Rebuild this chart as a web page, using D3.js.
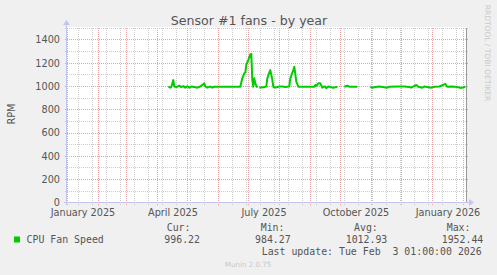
<!DOCTYPE html>
<html>
<head>
<meta charset="utf-8">
<script src="https://cdn.jsdelivr.net/npm/d3@7"></script>
<style>
  html, body { margin: 0; padding: 0; background: #F0F0F0; }
  svg { display: block; }
  text { font-family: "DejaVu Sans", sans-serif; }
  .mono { font-family: "DejaVu Sans Mono", monospace; }
</style>
</head>
<body>
<svg id="chart" width="497" height="275"></svg>
<script>
// ---- data ----
const title = "Sensor #1 fans - by year";
const yLabel = "RPM";
const seriesName = "CPU Fan Speed";
const yTicks = [0, 200, 400, 600, 800, 1000, 1200, 1400];
const xTickMonths = ["2025-01-01", "2025-04-01", "2025-07-01", "2025-10-01", "2026-01-01"];
const xTickLabels = ["January 2025", "April 2025", "July 2025", "October 2025", "January 2026"];
const fanDates = [
  "2025-04-12","2025-04-14","2025-04-15","2025-04-17","2025-04-18","2025-04-20","2025-04-23","2025-04-25",
  "2025-04-27","2025-04-29","2025-05-01","2025-05-03","2025-05-05","2025-05-08","2025-05-11","2025-05-14",
  "2025-05-18","2025-05-19","2025-05-21","2025-05-24","2025-05-26","2025-05-28","2025-06-23","2025-06-25",
  "2025-06-27","2025-06-28","2025-06-29","2025-07-01","2025-07-03","2025-07-04","2025-07-05","2025-07-06",
  "2025-07-07","2025-07-08","2025-07-10","2025-07-11","2025-07-12","2025-07-17","2025-07-19","2025-07-20",
  "2025-07-22","2025-07-23","2025-07-25","2025-07-26","2025-07-28","2025-08-01","2025-08-04","2025-08-07",
  "2025-08-11","2025-08-12","2025-08-15","2025-08-16","2025-08-18","2025-08-20","2025-09-05","2025-09-06",
  "2025-09-07","2025-09-09","2025-09-11","2025-09-13","2025-09-14","2025-09-16","2025-09-17","2025-09-19",
  "2025-09-21","2025-09-24","2025-09-28","2025-10-01","2025-10-05","2025-10-08","2025-10-10","2025-10-18",
  "2025-10-24","2025-10-31","2025-11-02","2025-11-05","2025-11-09","2025-11-17","2025-11-19","2025-11-29",
  "2025-12-04","2025-12-09","2025-12-11","2025-12-16","2025-12-18","2025-12-22","2025-12-24","2025-12-31",
  "2026-01-03","2026-01-08","2026-01-14","2026-01-16","2026-01-20","2026-01-26","2026-01-30","2026-02-03"
];
const fanRpm = [
  1000,990,995,1055,1000,995,1007,995,
  1003,990,1002,990,1000,995,990,1000,
  1027,1000,990,1000,990,998,998,1070,
  1113,1120,1185,1227,1276,1280,1055,998,
  1070,1027,990,null,990,995,1000,1070,
  1120,1141,1060,998,990,1000,1000,995,
  1000,1070,1141,1170,1041,998,998,1013,
  1005,1027,1027,990,998,1000,985,1000,
  995,990,998,null,998,1007,998,998,
  null,998,990,995,1000,990,998,1000,
  1000,995,990,1013,998,990,1000,990,
  998,1000,1022,998,1000,995,988,998
];
const legendStats = [
  {label: "Cur:", value: "996.22"},
  {label: "Min:", value: "984.27"},
  {label: "Avg:", value: "1012.93"},
  {label: "Max:", value: "1952.44"}
];
const lastUpdate = "Last update: Tue Feb  3 01:00:00 2026";
const footer = "Munin 2.0.75";
const sideText = "RRDTOOL / TOBI OETIKER";

// ---- layout ----
const svg = d3.select("#chart");
const plot = {left: 67, right: 467, top: 28.3, bottom: 202.9};
const parse = d3.utcParse("%Y-%m-%d");
const t0 = Date.UTC(2024, 11, 31, 17);
const x = d3.scaleUtc().domain([new Date(t0), new Date(t0 + 400 * 864e5)]).range([plot.left, plot.right]);
const y = d3.scaleLinear().domain([0, 1500]).range([plot.bottom, plot.top]);
const crisp = v => Math.floor(v) + 0.5;

const minorColor = "#CDCDCD", majorColor = "#EBA3A3", axisColor = "#C4C4F2";

// plot background
svg.append("rect").attr("x", plot.left).attr("y", 27)
  .attr("width", plot.right - plot.left).attr("height", 203 - 27).attr("fill", "#FFFFFF");

// horizontal grid (minor every 100, major every 200)
const yMinor = d3.range(100, 1501, 200);
const g = svg.append("g");
yMinor.forEach(v => {
  g.append("line").attr("x1", plot.left - 2).attr("x2", plot.right + 2)
    .attr("y1", crisp(y(v))).attr("y2", crisp(y(v)))
    .attr("stroke", minorColor).attr("stroke-dasharray", "1,1");
});
yTicks.filter(v => v > 0).forEach(v => {
  g.append("line").attr("x1", plot.left - 2).attr("x2", plot.right + 2)
    .attr("y1", crisp(y(v))).attr("y2", crisp(y(v)))
    .attr("stroke", majorColor).attr("stroke-dasharray", "1,1");
});

// vertical grid: minor every 2 weeks (Sundays), major every month
const [d0, d1] = x.domain();
const biweekRef = parse("2025-01-12");
const minorX = d3.utcSunday.range(d0, d1).filter(d => Math.round((d - biweekRef) / 864e5) % 14 === 0);
minorX.forEach(d => {
  g.append("line").attr("x1", crisp(x(d))).attr("x2", crisp(x(d)))
    .attr("y1", 28).attr("y2", 206)
    .attr("stroke", minorColor).attr("stroke-dasharray", "1,1");
});
const majorX = d3.utcMonth.range(d0, d1);
majorX.forEach(d => {
  g.append("line").attr("x1", crisp(x(d))).attr("x2", crisp(x(d)))
    .attr("y1", 28).attr("y2", 206)
    .attr("stroke", majorColor).attr("stroke-dasharray", "1,1");
});

// right frame line
svg.append("line").attr("x1", plot.right - 0.5).attr("x2", plot.right - 0.5)
  .attr("y1", 28).attr("y2", 203).attr("stroke", "#9A9A9A");

// axes
svg.append("line").attr("x1", plot.left - 0.5).attr("x2", plot.left - 0.5)
  .attr("y1", 205).attr("y2", 24).attr("stroke", axisColor);
svg.append("path").attr("d", `M${plot.left - 4},${25} L${plot.left - 0.5},${20} L${plot.left + 3},${25} Z`)
  .attr("fill", axisColor);
svg.append("line").attr("x1", plot.left - 3).attr("x2", plot.right + 4)
  .attr("y1", 202.5).attr("y2", 202.5).attr("stroke", axisColor);
svg.append("path").attr("d", `M${plot.right + 2},${199} L${plot.right + 7},${202.5} L${plot.right + 2},${206} Z`)
  .attr("fill", axisColor);

// y labels
svg.append("g").selectAll("text").data(yTicks).join("text")
  .attr("x", 60).attr("y", d => y(d)).attr("dy", "0.35em")
  .attr("text-anchor", "end").attr("font-size", "9.7px").attr("fill", "#555")
  .text(d => d);

// x labels (centred mid-month like rrdtool)
svg.append("g").selectAll("text").data(xTickMonths).join("text")
  .attr("x", d => x(parse(d)) + 15.7).attr("y", 216)
  .attr("text-anchor", "middle").attr("font-size", "9.7px").attr("fill", "#555")
  .text((d, i) => xTickLabels[i]);

// series line
const pts = fanDates.map((d, i) => ({date: parse(d), v: fanRpm[i]}));
svg.append("path").datum(pts)
  .attr("d", d3.line().defined(p => p.v !== null).x(p => x(p.date)).y(p => y(p.v)))
  .attr("fill", "none").attr("stroke", "#00CC00").attr("stroke-width", 2).attr("stroke-linejoin", "round");

// title
svg.append("text").attr("x", 249).attr("y", 24.5).attr("text-anchor", "middle")
  .attr("font-size", "12.6px").attr("fill", "#555").text(title);

// y axis title
svg.append("text").attr("transform", "translate(15,114) rotate(-90)").attr("text-anchor", "middle")
  .attr("font-size", "9.7px").attr("fill", "#555").text(yLabel);

// side text
svg.append("text").attr("transform", "translate(485,53) rotate(90)").attr("text-anchor", "middle")
  .attr("font-size", "7.5px").attr("fill", "#C8C8C8").text(sideText);

// legend
svg.append("rect").attr("x", 14).attr("y", 236.5).attr("width", 6).attr("height", 6).attr("fill", "#00CC00");
svg.append("text").attr("class", "mono").attr("x", 26.5).attr("y", 243)
  .attr("font-size", "9.9px").attr("fill", "#555").text(seriesName);
const statLabelX = [166.7, 260.7, 354, 446.7];
const statValueX = [164.3, 255, 345.7, 441.7];
legendStats.forEach((s, i) => {
  svg.append("text").attr("class", "mono").attr("x", statLabelX[i]).attr("y", 231)
    .attr("font-size", "9.9px").attr("fill", "#555").text(s.label);
  svg.append("text").attr("class", "mono").attr("x", statValueX[i]).attr("y", 243)
    .attr("font-size", "9.9px").attr("fill", "#555").text(s.value);
});
svg.append("text").attr("class", "mono").attr("x", 261.7).attr("y", 255)
  .attr("font-size", "9.9px").attr("fill", "#555").attr("xml:space", "preserve")
  .style("white-space", "pre").text(lastUpdate);
svg.append("text").attr("x", 248).attr("y", 267).attr("text-anchor", "middle")
  .attr("font-size", "7.1px").attr("fill", "#C8C8C8").text(footer);
</script>
</body>
</html>
